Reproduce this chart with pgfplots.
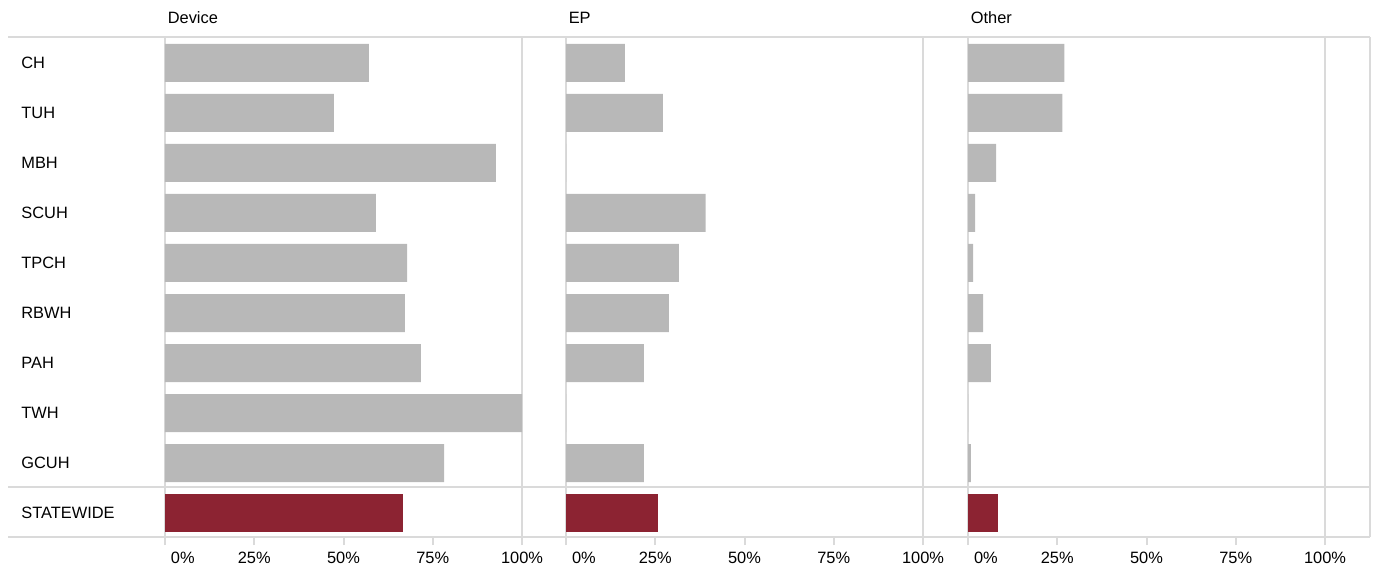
\documentclass[border=0pt]{standalone}
\usepackage{pgfplots}
\pgfplotsset{compat=1.18}
\usepackage{pgfplotstable}
\usepackage{fontspec}
\setmainfont{Liberation Sans}

\definecolor{barGray}{HTML}{B8B8B8}
\definecolor{stateRed}{HTML}{8C2332}
\definecolor{ruleGray}{HTML}{DADADA}
\newcommand\fs{\fontsize{8.2pt}{9.8pt}\selectfont}

% share of cases by category, per hospital (percent)
\pgfplotstableread{
row dev  ep   oth
0   57.1 16.5 27.0
1   47.3 27.1 26.4
2   92.7 0    7.9
3   59.1 39.1 2.0
4   67.8 31.6 1.4
5   67.2 28.8 4.2
6   71.7 21.8 6.4
7   100  0    0
8   78.2 21.8 0.8
}\hospitals
\pgfplotstableread{
row dev  ep   oth
9   66.7 25.7 8.4
}\statewide

\pgfplotsset{
  panel/.style={
    anchor=south west, scale only axis,
    width=178.5pt, height=250pt,
    xmin=0, xmax=100, ymin=-0.52, ymax=9.48, y dir=reverse,
    axis line style={draw=none},
    xtick={0,25,50,75,100},
    xticklabels={{\makebox[0pt][l]{\hspace{3pt}0\%}},25\%,50\%,75\%,100\%},
    xtick pos=bottom, tick align=outside, major tick length=4pt,
    tick style={ruleGray, line width=1pt},
    extra x ticks={0,100}, extra x tick labels={},
    extra x tick style={grid=major, major tick length=0pt},
    major grid style={ruleGray, line width=1pt},
    ytick=\empty,
    every tick label/.append style={font=\fs, text=black},
    title style={at={(0,1)}, anchor=base west, inner sep=0pt,
                 xshift=1.2pt, yshift=0.85pt, font=\fs},
    xbar, bar width=19pt, bar shift=0pt,
    clip=false,
  },
  hosp/.style={fill=barGray, draw=none},
  state/.style={fill=stateRed, draw=none},
}

\begin{document}
\begin{tikzpicture}
% Device
\begin{axis}[panel, at={(82.5pt,17.5pt)}, title={Device},
  ytick={0,...,9},
  yticklabels={CH,TUH,MBH,SCUH,TPCH,RBWH,PAH,TWH,GCUH,STATEWIDE},
  ytick style={draw=none},
  yticklabel style={anchor=west, inner xsep=0pt, xshift=-68pt}]
  \addplot[hosp] table[x=dev, y=row] {\hospitals};
  \addplot[state] table[x=dev, y=row] {\statewide};
\end{axis}
% EP
\begin{axis}[panel, at={(283pt,17.5pt)}, title={EP}]
  \addplot[hosp] table[x=ep, y=row] {\hospitals};
  \addplot[state] table[x=ep, y=row] {\statewide};
\end{axis}
% Other
\begin{axis}[panel, at={(484pt,17.5pt)}, title={Other}]
  \addplot[hosp] table[x=oth, y=row] {\hospitals};
  \addplot[state] table[x=oth, y=row] {\statewide};
\end{axis}
% table rules
\draw[ruleGray, line width=1pt] (4pt,267.5pt) -- (685pt,267.5pt);
\draw[ruleGray, line width=1pt] (4pt,42.5pt) -- (685pt,42.5pt);
\draw[ruleGray, line width=1pt] (4pt,17.5pt) -- (685pt,17.5pt);
\draw[ruleGray, line width=1pt] (685pt,17.5pt) -- (685pt,267.5pt);
\pgfresetboundingbox
\path[use as bounding box] (0,0) rectangle (687.5pt,286pt);
\end{tikzpicture}
\end{document}
